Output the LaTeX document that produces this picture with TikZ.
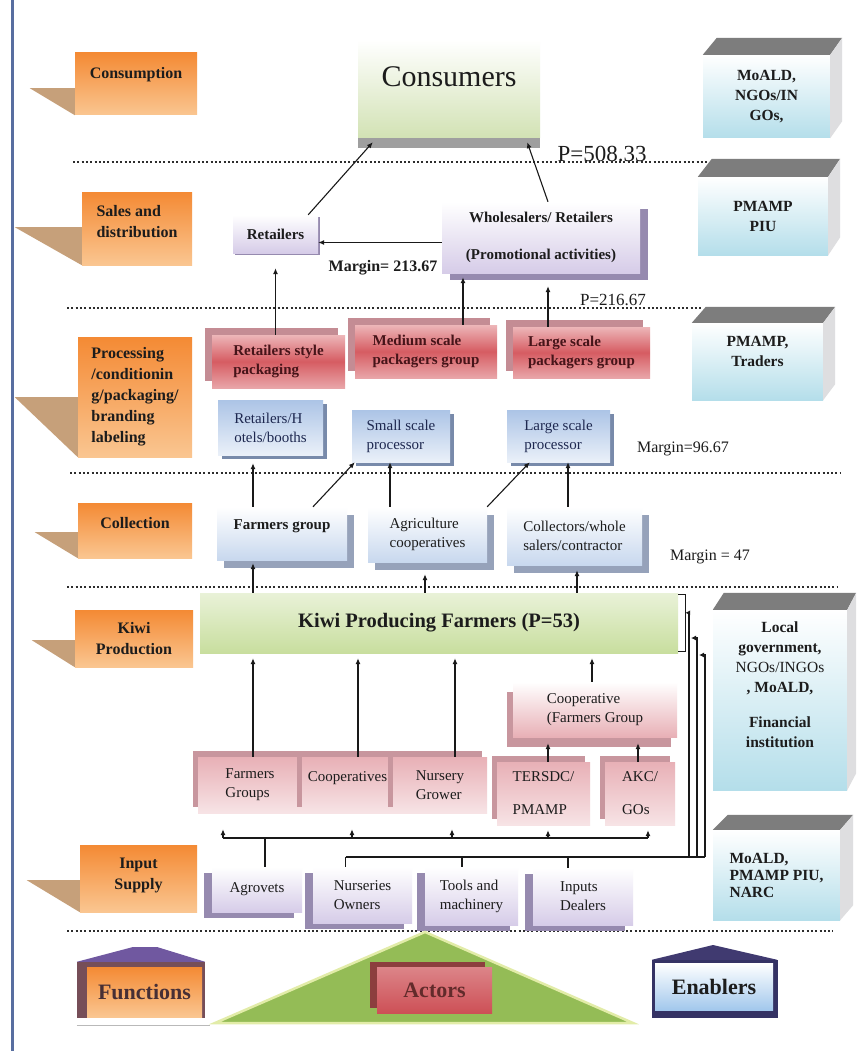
\documentclass[tikz,border=0pt]{standalone}
\usepackage{fontspec}
\setmainfont{Liberation Serif}
\usepackage{tikz}
\usetikzlibrary{arrows.meta,calc,positioning,shadows,backgrounds}

\definecolor{sideblue}{RGB}{88,110,160}
\definecolor{sepgray}{RGB}{45,45,45}
\definecolor{funcor}{RGB}{244,138,52}
\definecolor{funcorlt}{RGB}{250,198,145}
\definecolor{tabtan}{RGB}{198,160,122}
\definecolor{enblue}{RGB}{180,222,234}
\definecolor{entop}{RGB}{125,125,125}
\definecolor{enside}{RGB}{222,222,224}
\definecolor{consgreen}{RGB}{210,226,180}
\definecolor{kiwigreen}{RGB}{200,222,158}
\definecolor{lavender}{RGB}{214,204,232}
\definecolor{lavshade}{RGB}{150,138,175}
\definecolor{procblue}{RGB}{172,196,230}
\definecolor{procshade}{RGB}{120,138,170}
\definecolor{collblue}{RGB}{200,216,238}
\definecolor{collshade}{RGB}{150,162,186}
\definecolor{pkred}{RGB}{214,92,98}
\definecolor{pkshade}{RGB}{196,140,148}
\definecolor{pkink}{RGB}{70,20,25}
\definecolor{actpink}{RGB}{232,176,182}
\definecolor{actshade}{RGB}{200,150,158}
\definecolor{inkdark}{RGB}{28,28,28}
\definecolor{procink}{RGB}{30,40,80}
\definecolor{arrink}{RGB}{25,25,25}
\definecolor{roofpurple}{RGB}{112,88,160}
\definecolor{framebrown}{RGB}{118,78,88}
\definecolor{navy}{RGB}{52,50,100}
\definecolor{trigreen}{RGB}{148,188,86}
\definecolor{tririm}{RGB}{226,236,168}
\definecolor{actred}{RGB}{205,80,86}
\definecolor{actdark}{RGB}{140,62,62}

\newcommand{\fsz}[2]{\fontsize{#1}{#2}\selectfont}

\begin{document}
\begin{tikzpicture}[x=1pt,y=-1pt,
  sepline/.style={sepgray,line width=2.2pt,dash pattern=on 2pt off 2.3pt},
  arr/.style={arrink,line width=1.1pt,-{Latex[length=6pt,width=5pt]}},
  link/.style={arrink,line width=1.1pt},
  func/.style={inner sep=0pt,align=left,font={\fsz{16}{21}\bfseries},text=inkdark,
    top color=funcor,bottom color=funcorlt},
  enab/.style={inner sep=0pt,align=center,font={\fsz{15.5}{20}\bfseries},text=inkdark,
    top color=white,bottom color=enblue},
  box/.style={inner sep=0pt,align=left,font={\fsz{15}{19}},text=inkdark},
  salebox/.style={box,align=center,font={\fsz{15}{19}\bfseries},top color=white,bottom color=lavender},
  packbox/.style={box,font={\fsz{15}{19}\bfseries},text=pkink,
    top color=pkred!45!white,bottom color=pkred!55!white,middle color=pkred,
    drop shadow={shadow xshift=-7pt,shadow yshift=7pt,fill=pkshade,opacity=1}},
  procbox/.style={box,text=procink,top color=procblue,bottom color=procblue!25!white,
    drop shadow={shadow xshift=4pt,shadow yshift=-4pt,fill=procshade,opacity=1}},
  collbox/.style={box,top color=white,bottom color=collblue,
    drop shadow={shadow xshift=7pt,shadow yshift=-8pt,fill=collshade,opacity=1}},
  actbox/.style={box,top color=actpink,bottom color=actpink!35!white,
    drop shadow={shadow xshift=-5pt,shadow yshift=6pt,fill=actshade,opacity=1}},
  inbox/.style={box,top color=white,bottom color=lavender,
    drop shadow={shadow xshift=-8pt,shadow yshift=-6pt,fill=lavshade,opacity=1}},
  legend/.style={inner sep=0pt,font={\fsz{22}{26}\bfseries}}]

\useasboundingbox (0,0) rectangle (856,1051);
\begin{scope}[on background layer]
\fill[white] (0,0) rectangle (856,1051);
\end{scope}

% side rule and level separators
\draw[sideblue,line width=3pt] (12,0) -- (12,1051);
\draw[sepline] (73,162) -- (707,162);
\draw[sepline] (67,308) -- (703,308);
\draw[sepline] (70,473) -- (840,473);
\draw[sepline] (67,587) -- (837,587);
\draw[sepline] (67,931) -- (833,931);

% functions (left column)
\node[func,minimum width=122,minimum height=62] (fcon) at (136,84) {Consumption\\[2pt]~};
\node[func,minimum width=110,minimum height=73] (fsal) at (137,228.5) {Sales and\\distribution\\[-6pt]~};
\node[func,minimum width=114,minimum height=120] (fpro) at (135,397) {Processing\\/conditionin\\g/packaging/\\branding\\labeling};
\node[func,minimum width=114,minimum height=55] (fcol) at (135,530.5) {Collection\\[-6pt]~};
\node[func,align=center,minimum width=118,minimum height=57] (fkiw) at (134,638.5) {Kiwi\\Production};
\node[func,align=center,minimum width=117,minimum height=67] (finp) at (138.5,878.5) {Input\\Supply\\[-11pt]~};
\fill[tabtan] (fcon.south west) -- ++(-45,-27) -- ++(45,0) -- cycle;
\fill[tabtan] (fsal.south west) -- ++(-67,-38) -- ++(67,0) -- cycle;
\fill[tabtan] (fpro.south west) -- ++(-63,-60) -- ++(63,0) -- cycle;
\fill[tabtan] (fcol.south west) -- ++(-43,-26) -- ++(43,0) -- cycle;
\fill[tabtan] (fkiw.south west) -- ++(-43,-27) -- ++(43,0) -- cycle;
\fill[tabtan] (finp.south west) -- ++(-53,-32) -- ++(53,0) -- cycle;

% enablers (right column)
\node[enab,minimum width=127,minimum height=83] (e1) at (766.5,96.5) {MoALD,\\NGOs/IN\\GOs,};
\node[enab,minimum width=130,minimum height=78] (e2) at (763,216) {PMAMP\\PIU};
\node[enab,minimum width=131,minimum height=77] (e3) at (757.5,361.5) {PMAMP,\\Traders\\[1pt]~};
\node[enab,minimum width=134,minimum height=180] (e4) at (780,700) {Local\\government,\\{\mdseries NGOs/INGOs}\\, MoALD,\\[15pt]Financial\\institution\\[10pt]~};
\node[enab,align=left,font={\fsz{15.5}{17}\bfseries},minimum width=127,minimum height=90] (e5) at (776.5,875) {MoALD,\\PMAMP PIU,\\NARC};
\foreach \e/\dx/\dy in {e1/12/17,e2/12/18,e3/12/16,e4/9/17,e5/13/15}{
  \fill[entop] (\e.north west) -- ($(\e.north west)+(\dx+2,-\dy)$) -- ($(\e.north east)+(\dx,-\dy)$) -- (\e.north east) -- cycle;
  \fill[enside] (\e.north east) -- ($(\e.north east)+(\dx,-\dy)$) -- ($(\e.south east)+(\dx,-\dy)$) -- (\e.south east) -- cycle;
}

% consumption and sales
\node[inner sep=0pt,font={\fsz{30}{34}},text=inkdark,top color=white,bottom color=consgreen,
  minimum width=182,text height=47pt,text depth=51pt,
  drop shadow={shadow xshift=0pt,shadow yshift=-10pt,fill=gray!75,opacity=1}] (cons) at (449,89) {Consumers};
\node[salebox,minimum width=85,minimum height=38,
  drop shadow={shadow xshift=2pt,shadow yshift=-2pt,fill=lavshade,opacity=1}] (ret) at (275.5,234) {Retailers};
\node[salebox,minimum width=198,minimum height=71,
  drop shadow={shadow xshift=8pt,shadow yshift=-7pt,fill=lavshade,opacity=1}] (whl) at (541,237.5) {Wholesalers/ Retailers\\[18pt](Promotional activities)};

% processing
\node[packbox,minimum width=133,minimum height=53] (rsp) at (278.5,361.5) {Retailers style\\packaging};
\node[packbox,minimum width=142,minimum height=53] (msp) at (426,351.5) {Medium scale\\packagers group};
\node[packbox,minimum width=137,minimum height=51] (lsp) at (581.5,352.5) {Large scale\\packagers group};
\node[procbox,minimum width=105,minimum height=55] (rhb) at (270.5,427.5) {Retailers/H\\otels/booths};
\node[procbox,minimum width=98,minimum height=52] (ssp) at (401,436) {Small scale\\processor};
\node[procbox,minimum width=103,minimum height=52] (lgp) at (558.5,436) {Large scale\\processor};

% collection
\node[collbox,minimum width=130,minimum height=53] (fgp) at (282,533.5) {\textbf{Farmers group}\\[-2pt]~};
\node[collbox,minimum width=119,minimum height=55] (agc) at (427.5,534.5) {Agriculture\\cooperatives};
\node[collbox,minimum width=135,minimum height=58] (cwc) at (574.5,536) {Collectors/whole\\salers/contractor};

% production
\node[inner sep=0pt,font={\fsz{20.5}{24}\bfseries},text=inkdark,top color=kiwigreen!40!white,
  bottom color=kiwigreen,minimum width=478,minimum height=60] (kwf) at (439,623) {Kiwi Producing Farmers (P=53)};
\draw[link,line width=0.9pt] ([yshift=-2pt]kwf.north east) -- ++(7,0) -- ++(0,57) -- ++(-7,0);
\node[box,top color=white,bottom color=actpink,minimum width=164,minimum height=55,
  drop shadow={shadow xshift=-6pt,shadow yshift=-10pt,fill=actshade,opacity=1}] (cfg) at (595,709.5) {Cooperative\\(Farmers Group};
\node[actbox,minimum width=104,minimum height=56] (fgr) at (250,785) {Farmers\\Groups};
\node[actbox,minimum width=91,minimum height=56] (cop) at (347.5,785) {Cooperatives\\[-3pt]~};
\node[actbox,minimum width=94,minimum height=56] (nsg) at (440,785) {Nursery\\Grower};
\node[actbox,minimum width=93,minimum height=63] (trs) at (543.5,793.5) {TERSDC/\\[14pt]PMAMP};
\node[actbox,minimum width=70,minimum height=63] (akc) at (640,793.5) {AKC/\\[14pt]GOs};

% input supply
\node[inbox,minimum width=90,minimum height=45] (agv) at (257,889.5) {Agrovets};
\node[inbox,minimum width=99,minimum height=56] (nso) at (362.5,895) {Nurseries\\Owners};
\node[inbox,minimum width=93,minimum height=58] (tam) at (471.5,896) {Tools and\\machinery};
\node[inbox,minimum width=100,minimum height=57] (ipd) at (583,896.5) {Inputs\\Dealers};

% price and margin notes
\node[font={\fsz{23}{26}},text=inkdark] (p1) at (602,154) {P=508.33};
\node[font={\fsz{16}{19}\bfseries},text=inkdark] (m1) at (383,268) {Margin= 213.67};
\node[font={\fsz{17}{20}},text=inkdark] (p2) at (613,300) {P=216.67};
\node[font={\fsz{16}{19}},text=inkdark] (m2) at (683,449) {Margin=96.67};
\node[font={\fsz{16}{19}},text=inkdark] (m3) at (710,557) {Margin = 47};

% input buses
\coordinate (busL) at (223,838);
\coordinate (busR) at (648,838);
\coordinate (inL) at (345.5,857);
\coordinate (inR) at (705,857);
\draw[link,line width=2pt] (busL) -- (busR);
\draw[link] ([xshift=8pt]agv.north) -- ([xshift=8pt]agv.north |- busL);
\draw[link] (inL) -- (inR);
\draw[link,line width=2pt] ([xshift=-15pt]ipd.north |- inL) -- (inR);
\draw[link] ([xshift=-17pt]nso.north) -- ([xshift=-17pt]nso.north |- inL);
\draw[link] ([xshift=-9.5pt]tam.north) -- ([xshift=-9.5pt]tam.north |- inL);
\draw[link] ([xshift=-15pt]ipd.north) -- ([xshift=-15pt]ipd.north |- inL);
\coordinate (r1) at (689,857);
\coordinate (r2) at (697,857);
\coordinate (r3) at (705,857);
\coordinate (t2) at (691,638);
\coordinate (t3) at (699,655);
\draw[arr,-{Latex[length=5pt,width=5pt]}] (r1) |- ([xshift=7pt,yshift=-20pt]kwf.north east);
\draw[arr,-{Latex[length=5pt,width=5pt]}] (r2) |- (t2);
\draw[arr,-{Latex[length=5pt,width=5pt]}] (r3) |- (t3);

% input -> actors
\draw[arr,shorten >=16pt] ([xshift=-27pt]fgr.south |- busL) -- ([xshift=-27pt]fgr.south);
\draw[arr,shorten >=16pt] ([xshift=4.5pt]cop.south |- busL) -- ([xshift=4.5pt]cop.south);
\draw[arr,shorten >=16pt] ([xshift=12pt]nsg.south |- busL) -- ([xshift=12pt]nsg.south);
\draw[arr,shorten >=5pt] ([xshift=4.5pt]trs.south |- busL) -- ([xshift=4.5pt]trs.south);
\draw[arr,shorten >=5pt] ([xshift=8pt]akc.south |- busL) -- ([xshift=8pt]akc.south);

% actors -> farmers
\draw[arr,shorten >=5pt] ([xshift=3pt]fgr.north) -- ([xshift=3pt]fgr.north |- kwf.south);
\draw[arr,shorten >=5pt] ([xshift=10.5pt]cop.north) -- ([xshift=10.5pt]cop.north |- kwf.south);
\draw[arr,shorten >=5pt] ([xshift=15pt]nsg.north) -- ([xshift=15pt]nsg.north |- kwf.south);
\draw[arr,shorten >=5pt] ([xshift=-3pt]cfg.north) -- ([xshift=-3pt]cfg.north |- kwf.south);
\draw[arr,shorten >=6pt] ([xshift=4.5pt]trs.north) -- ([xshift=4.5pt]trs.north |- cfg.south);
\draw[arr,shorten >=6pt] ([xshift=-2pt]akc.north) -- ([xshift=-2pt]akc.north |- cfg.south);

% farmers -> collection
\draw[arr,shorten >=3pt] ([xshift=-29pt]fgp.south |- kwf.north) -- ([xshift=-29pt]fgp.south);
\draw[arr,shorten >=12pt] ([xshift=-2.5pt]agc.south |- kwf.north) -- ([xshift=-2.5pt]agc.south);
\draw[arr,shorten >=5pt] ([xshift=2.5pt]cwc.south |- kwf.north) -- ([xshift=2.5pt]cwc.south);

% collection -> processing
\draw[arr,shorten >=8pt] ([xshift=-29pt]fgp.north) -- ([xshift=-29pt]fgp.north |- rhb.south);
\draw[arr] ([xshift=31pt]fgp.north) -- ([xshift=3pt]ssp.south west);
\draw[arr] ([xshift=-37.5pt]agc.north) -- ([xshift=-37.5pt]agc.north |- ssp.south);
\draw[arr] (agc.north east) -- ([xshift=23pt]lgp.south west);
\draw[arr] ([xshift=-6.5pt]cwc.north) -- ([xshift=-6.5pt]cwc.north |- lgp.south);

% processing -> sales -> consumers
\draw[arr,shorten >=15pt] (ret.south |- rsp.north) -- (ret.south);
\draw[arr,shorten >=4pt] ([xshift=37pt]msp.north) -- ([xshift=37pt]msp.north |- whl.south);
\draw[arr,shorten >=13pt] ([xshift=-33.5pt]lsp.north) -- ([xshift=-33.5pt]lsp.north |- whl.south);
\draw[arr] ([yshift=-5pt]whl.west) -- ([yshift=-5pt]whl.west -| ret.east);
\draw[arr] ([xshift=-10pt]ret.north east) -- ([xshift=15pt,yshift=-4pt]cons.south west);
\draw[arr] ([xshift=7pt]whl.north) -- ([xshift=-13pt,yshift=-4pt]cons.south east);

% legend
\fill[trigreen,draw=tririm,line width=2.5pt] (215,1023) -- (425,932) -- (633,1023) -- cycle;
\node[legend,text=actdark!70!black,top color=actred!70!white,bottom color=actred,
  minimum width=115,minimum height=46,
  drop shadow={shadow xshift=-7pt,shadow yshift=5pt,fill=actdark,opacity=1}] (act) at (434.5,990) {Actors};
\node[legend,text=framebrown!60!black,top color=funcor,bottom color=funcorlt,
  minimum width=115,minimum height=50] (fnc) at (144.5,992) {Functions};
\node[legend,text=inkdark,top color=white,bottom color=enblue!90!blue,
  minimum width=118,minimum height=47] (enb) at (714,986.5) {Enablers};
\begin{scope}[on background layer]
\fill[framebrown] ($(fnc.north west)+(-10,-5)$) rectangle ($(fnc.south east)+(3,1)$);
\fill[roofpurple] ($(fnc.north west)+(-10,-5)$) -- (133,947) -- (157,947) -- ($(fnc.north east)+(3,-5)$) -- cycle;
\fill[navy] ($(enb.north west)+(-3,-3)$) rectangle ($(enb.south east)+(5,8)$);
\fill[navy!80!roofpurple] ($(enb.north west)+(-3,-3)$) -- (713,945) -- ($(enb.north east)+(4,-3)$) -- cycle;
\end{scope}
\draw[gray!55,line width=1pt] ($(fnc.south west)+(-10,8)$) -- ++(133,0);
\end{tikzpicture}
\end{document}
